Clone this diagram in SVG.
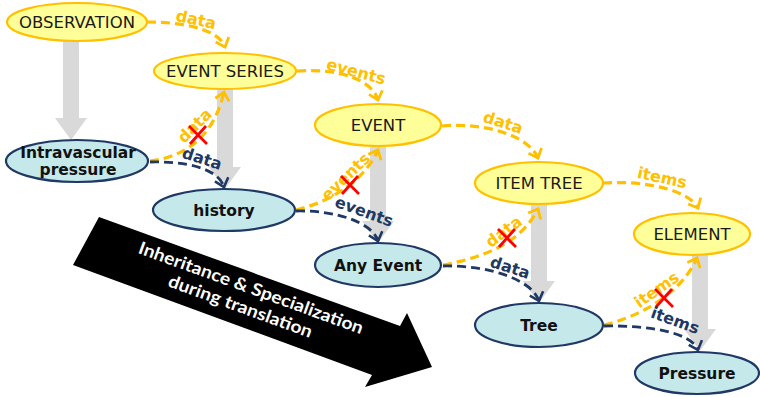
<svg xmlns="http://www.w3.org/2000/svg" width="760" height="397" viewBox="0 0 760 397">
  <defs>
    <style>
      .bg { fill: #ffffff; }
      .gen { fill: #d9d9d9; }
      .ynode ellipse { fill: #ffff99; stroke: #ffc000; stroke-width: 2.2; }
      .bnode ellipse { fill: #c5e8ea; stroke: #1f3864; stroke-width: 2.2; }
      .ynode text { font-family: "DejaVu Sans", Verdana, sans-serif; font-size: 16.5px; fill: #1a1a1a; text-anchor: middle; }
      .bnode text { font-family: "DejaVu Sans", Verdana, sans-serif; font-size: 15.5px; font-weight: bold; fill: #111111; text-anchor: middle; }
      .ylink { fill: none; stroke: #ffc000; stroke-width: 3.2; stroke-dasharray: 9 5; marker-end: url(#yhead); }
      .blink { fill: none; stroke: #1f3864; stroke-width: 2.8; stroke-dasharray: 9 5; marker-end: url(#bhead); }
      .ylab { font-family: "DejaVu Sans", Verdana, sans-serif; font-size: 16px; font-weight: bold; fill: #ffc000; text-anchor: middle; }
      .blab { font-family: "DejaVu Sans", Verdana, sans-serif; font-size: 16px; font-weight: bold; fill: #1f3864; text-anchor: middle; }
      .cross { stroke: #ff0000; stroke-width: 2.8; fill: none; }
      .band { fill: #000000; }
      .bandtext { font-family: Lato, "Open Sans", sans-serif; font-size: 17.5px; font-weight: bold; fill: #ffffff; text-anchor: middle; }
    </style>
    <marker id="yhead" markerUnits="userSpaceOnUse" markerWidth="18" markerHeight="18" viewBox="0 0 18 18" refX="15" refY="9" orient="auto">
      <path d="M7,2 L15,9 L7,16" fill="none" stroke="#ffc000" stroke-width="2.8" stroke-dasharray="none"/>
    </marker>
    <marker id="bhead" markerUnits="userSpaceOnUse" markerWidth="18" markerHeight="18" viewBox="0 0 18 18" refX="15" refY="9" orient="auto">
      <path d="M7,2 L15,9 L7,16" fill="none" stroke="#1f3864" stroke-width="2.6" stroke-dasharray="none"/>
    </marker>
  </defs>

  <rect class="bg" x="0" y="0" width="760" height="397"/>

  <!-- specialisation arrows: generic type down to the specialised archetype node -->
  <g id="specialisation">
    <polygon class="gen" points="63,40 79,40 79,118 87,118 71,140 55,118 63,118"/>
    <polygon class="gen" points="217,85 233,85 233,167 241,167 225,189 209,167 217,167"/>
    <polygon class="gen" points="370,143 386,143 386,221 394,221 378,243 362,221 370,221"/>
    <polygon class="gen" points="531,200 547,200 547,281 555,281 539,303 523,281 531,281"/>
    <polygon class="gen" points="692,250 708,250 708,329 716,329 700,351 684,329 692,329"/>
  </g>

  <!-- big direction arrow -->
  <g id="translation-arrow">
    <polygon class="band" points="99,217 400,326 407,313 432,367 365,387 372,375 73,265"/>
    <g transform="translate(249,293.5) rotate(20)">
      <text class="bandtext" x="0" y="0" textLength="238" lengthAdjust="spacingAndGlyphs">Inheritance &amp; Specialization</text>
      <text class="bandtext" x="-3.6" y="21" textLength="152" lengthAdjust="spacingAndGlyphs">during translation</text>
    </g>
  </g>

  <!-- reference model classes -->
  <g id="observation" class="ynode">
    <ellipse cx="77" cy="22" rx="70" ry="19"/>
    <text x="77" y="28">OBSERVATION</text>
  </g>
  <g id="event-series" class="ynode">
    <ellipse cx="225" cy="71" rx="71" ry="18"/>
    <text x="225" y="77">EVENT SERIES</text>
  </g>
  <g id="event" class="ynode">
    <ellipse cx="378" cy="125" rx="63" ry="21"/>
    <text x="378" y="131">EVENT</text>
  </g>
  <g id="item-tree" class="ynode">
    <ellipse cx="539" cy="183" rx="64" ry="21"/>
    <text x="539" y="189">ITEM TREE</text>
  </g>
  <g id="element" class="ynode">
    <ellipse cx="692" cy="234" rx="58" ry="21"/>
    <text x="692" y="240">ELEMENT</text>
  </g>

  <!-- archetype nodes -->
  <g id="intravascular-pressure" class="bnode">
    <ellipse cx="77" cy="161" rx="71" ry="21"/>
    <text x="78" y="158">Intravascular</text>
    <text x="78" y="174.5">pressure</text>
  </g>
  <g id="history" class="bnode">
    <ellipse cx="224" cy="210" rx="71" ry="21"/>
    <text x="224" y="215.5">history</text>
  </g>
  <g id="any-event" class="bnode">
    <ellipse cx="378" cy="265" rx="63" ry="22"/>
    <text x="378" y="270.5">Any Event</text>
  </g>
  <g id="tree" class="bnode">
    <ellipse cx="539" cy="325" rx="64" ry="22"/>
    <text x="539" y="330.5">Tree</text>
  </g>
  <g id="pressure" class="bnode">
    <ellipse cx="697" cy="373" rx="62" ry="21"/>
    <text x="697" y="378.5">Pressure</text>
  </g>

  <g id="connectors">
    <!-- attribute links between reference classes -->
    <path class="ylink" d="M147,22 C180,22 218,28 225,47"/>
    <path class="ylink" d="M297,71 C340,68 372,80 378,100"/>
    <path class="ylink" d="M442,126 C490,122 530,138 538,158"/>
    <path class="ylink" d="M603,183 C650,180 690,192 698,208"/>
    <text class="ylab" transform="translate(196,20) rotate(12)" y="5">data</text>
    <text class="ylab" transform="translate(356,72) rotate(15)" y="5">events</text>
    <text class="ylab" transform="translate(503,123) rotate(18)" y="5">data</text>
    <text class="ylab" transform="translate(662,178) rotate(12)" y="5">items</text>

    <!-- attribute links from archetype nodes back to reference classes (not allowed) -->
    <path class="ylink" d="M150,161 C175,158 212,145 224,92"/>
    <path class="ylink" d="M296,210 C325,203 362,185 378,150"/>
    <path class="ylink" d="M443,265 C480,258 520,245 538,209"/>
    <path class="ylink" d="M604,325 C635,318 680,296 697,258"/>
    <text class="ylab" transform="translate(195,126) rotate(-45)" y="5">data</text>
    <text class="ylab" transform="translate(346,177) rotate(-44)" y="5">events</text>
    <text class="ylab" transform="translate(504,232) rotate(-37)" y="5">data</text>
    <text class="ylab" transform="translate(657,290) rotate(-35)" y="5">items</text>
    <path class="cross" d="M189,126 L207,144 M206,126 L190,144"/>
    <path class="cross" d="M341,176 L359,194 M358,176 L342,194"/>
    <path class="cross" d="M498,229 L516,247 M515,229 L499,247"/>
    <path class="cross" d="M655,289 L673,307 M672,289 L656,307"/>

    <!-- attribute links between archetype nodes -->
    <path class="blink" d="M150,162 C185,161 218,168 224,187"/>
    <path class="blink" d="M296,211 C335,210 372,222 378,241"/>
    <path class="blink" d="M443,266 C490,265 532,280 539,301"/>
    <path class="blink" d="M604,326 C650,325 692,333 698,350"/>
    <text class="blab" transform="translate(202,159) rotate(18)" y="5">data</text>
    <text class="blab" transform="translate(364,212) rotate(20)" y="5">events</text>
    <text class="blab" transform="translate(510,268) rotate(18)" y="5">data</text>
    <text class="blab" transform="translate(675,321) rotate(20)" y="5">items</text>
  </g>
</svg>
